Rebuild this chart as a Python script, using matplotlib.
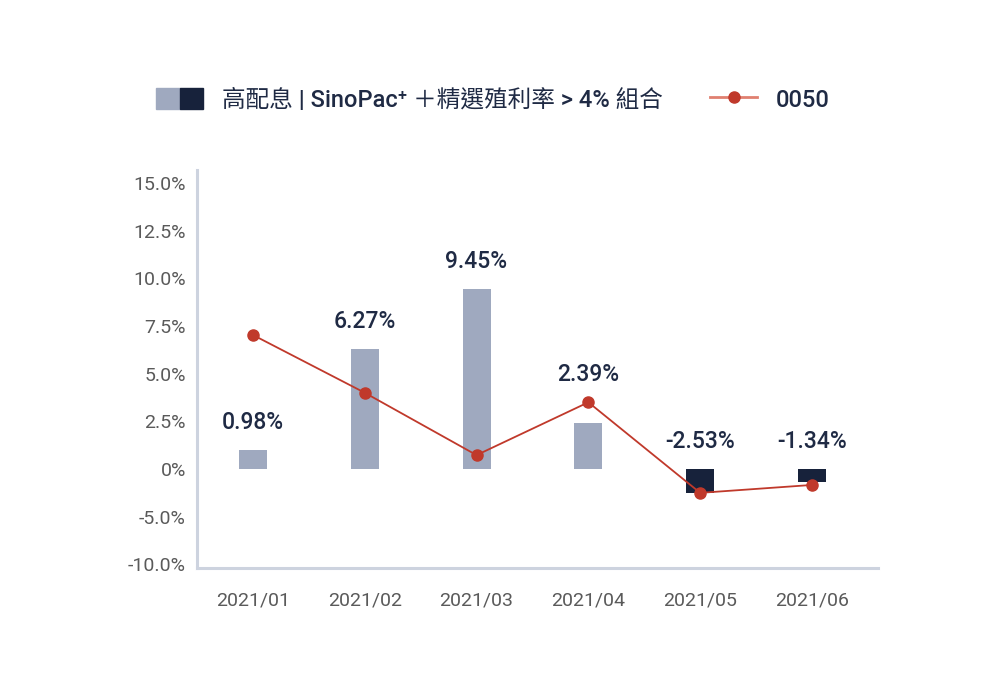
import numpy as np
import matplotlib
matplotlib.use("Agg")
import matplotlib.pyplot as plt
from matplotlib.patches import Patch
from matplotlib.lines import Line2D
from matplotlib.legend_handler import HandlerTuple
from matplotlib.ticker import FuncFormatter

plt.rcParams['font.family'] = ['Roboto', 'Noto Sans CJK TC', 'DejaVu Sans']

# data (monthly returns, %)
months = ['2021/01', '2021/02', '2021/03', '2021/04', '2021/05', '2021/06']
portfolio = [0.98, 6.27, 9.45, 2.39, -2.53, -1.34]
etf_0050 = [7.03, 4.0, 0.73, 3.5, -2.5, -1.67]
y_ticks = [-10, -5, 0, 2.5, 5, 7.5, 10, 12.5, 15]

series_name = '高配息 | SinoPac⁺ ＋精選殖利率 > 4% 組合'
line_name = '0050'

light = '#9fa9bf'
dark = '#17223b'
red = '#c0392b'
axis_col = '#cdd3df'
tick_col = '#5a5a5a'


# the chart squeezes the negative half of the axis by 2
def fwd(y):
    y = np.asarray(y, dtype=float)
    return np.where(y < 0, y / 2, y)


def inv(y):
    y = np.asarray(y, dtype=float)
    return np.where(y < 0, y * 2, y)


fig = plt.figure(figsize=(10, 6.8), dpi=100)
ax = fig.add_axes([0.197, 0.1647, 0.681, 0.5853])
ax.set_yscale('function', functions=(fwd, inv))

x = np.arange(len(months))
colors = [light if v >= 0 else dark for v in portfolio]
ax.bar(x, portfolio, width=0.25, color=colors, zorder=2)
ax.plot(x, etf_0050, color=red, lw=1.3, marker='o', ms=8, zorder=3)

for i, v in enumerate(portfolio):
    if v <= 0:
        anchor = 0
    elif 0 < etf_0050[i] - v < 2:
        anchor = etf_0050[i]
    else:
        anchor = v
    ax.annotate(f'{v:.2f}%', (x[i], anchor), xytext=(0, 20), textcoords='offset points',
                ha='center', va='center', fontsize=16.5, color='#1f2a44', fontweight='medium')

ax.set_xlim(-0.5, 5.59)
ax.set_ylim(-10.38, 15.68)
ax.set_xticks(x)
ax.set_xticklabels(months)
ax.set_yticks(y_ticks)
ax.yaxis.set_major_formatter(FuncFormatter(lambda v, p: '0%' if v == 0 else f'{v:.1f}%'))
ax.tick_params(axis='both', length=0, labelsize=14, labelcolor=tick_col)
ax.tick_params(axis='x', pad=17)
ax.tick_params(axis='y', pad=8)

for s in ['top', 'right']:
    ax.spines[s].set_visible(False)
for s in ['left', 'bottom']:
    ax.spines[s].set_color(axis_col)
    ax.spines[s].set_linewidth(2.2)

handles = [(Patch(color=light), Patch(color=dark)),
           Line2D([], [], color='#e08070', lw=2, marker='o', ms=8, mfc=red, mec=red)]
fig.legend(handles, [series_name, line_name], loc='center', bbox_to_anchor=(0.493, 0.853),
           ncol=2, frameon=False, prop={'size': 17, 'weight': 'medium'}, labelcolor='#1f2a44',
           handler_map={tuple: HandlerTuple(ndivide=None, pad=0.0)},
           handlelength=2.0, handleheight=1.0, columnspacing=2.0, handletextpad=0.8)

fig.savefig('out.png', dpi=100, facecolor='white')
